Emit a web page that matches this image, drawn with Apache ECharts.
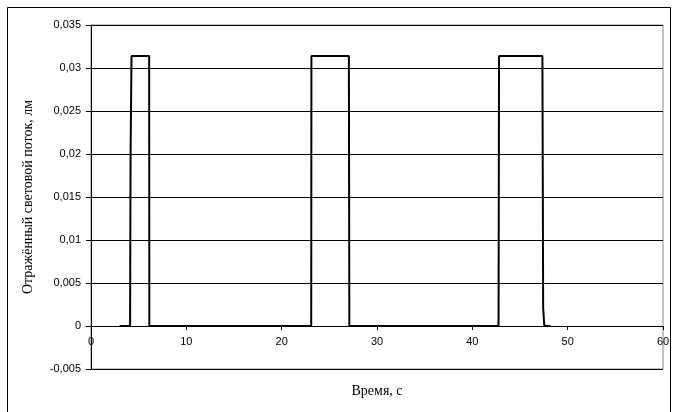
<!DOCTYPE html>
<html><head><meta charset="utf-8">
<script src="https://cdn.jsdelivr.net/npm/echarts@6/dist/echarts.min.js"></script>
<style>html,body{margin:0;padding:0;background:#fff}#c{width:676px;height:412px}</style>
</head><body><div id="c"></div>
<script>
const timeS = [3.0, 4.1, 4.15, 4.25, 6.1, 6.12, 23.1, 23.12, 27.05, 27.1, 42.75, 42.8, 47.35, 47.43, 47.55, 48.2];
const fluxLm = [0, 0, 0.02, 0.0314, 0.0314, 0, 0, 0.0314, 0.0314, 0, 0, 0.0314, 0.0314, 0.0021, 0, 0];
const xTicks = [0, 10, 20, 30, 40, 50, 60];
const yTicks = [-0.005, 0, 0.005, 0.01, 0.015, 0.02, 0.025, 0.03, 0.035];
const xTitle = 'Время, с';
const yTitle = 'Отражённый световой поток, лм';

const fmt = v => { const r = parseFloat(v.toFixed(4)); return String(r).replace('.', ','); };
const chart = echarts.init(document.getElementById('c'));
chart.setOption({
  animation: false,
  backgroundColor: '#fff',
  graphic: [{ type: 'rect', shape: { x: 7.5, y: 7.5, width: 663, height: 420 }, style: { fill: 'none', stroke: '#000', lineWidth: 1 } }],
  grid: { left: 91, right: 13, top: 25, bottom: 43, show: true, borderColor: '#888', borderWidth: 1, containLabel: false, outerBoundsMode: 'none' },
  xAxis: {
    type: 'value', min: xTicks[0], max: xTicks[xTicks.length - 1], interval: 10,
    position: 'bottom', offset: -43,
    name: xTitle, nameLocation: 'middle', nameGap: 58,
    nameTextStyle: { fontFamily: 'Liberation Serif', fontSize: 14, color: '#000' },
    axisLine: { onZero: false, lineStyle: { color: '#000', width: 1 } },
    axisTick: { show: true, inside: false, length: 4, lineStyle: { color: '#000' } },
    axisLabel: { fontFamily: 'Liberation Sans', fontSize: 11, color: '#000', margin: 10 },
    splitLine: { show: false }
  },
  yAxis: {
    type: 'value', min: yTicks[0], max: yTicks[yTicks.length - 1], interval: 0.005,
    name: yTitle, nameLocation: 'middle', nameGap: 56, nameRotate: 90,
    nameTextStyle: { fontFamily: 'Liberation Serif', fontSize: 14, color: '#000' },
    axisLine: { show: true, onZero: false, lineStyle: { color: '#000', width: 1 } },
    axisTick: { show: true, length: 5, lineStyle: { color: '#000' } },
    axisLabel: { fontFamily: 'Liberation Sans', fontSize: 11, color: '#000', margin: 10, formatter: fmt },
    splitLine: { show: true, lineStyle: { color: '#000', width: 1 } }
  },
  series: [{
    type: 'line', data: timeS.map((t, i) => [t, fluxLm[i]]),
    showSymbol: false, lineStyle: { color: '#000', width: 2 }
  }]
});
</script></body></html>
